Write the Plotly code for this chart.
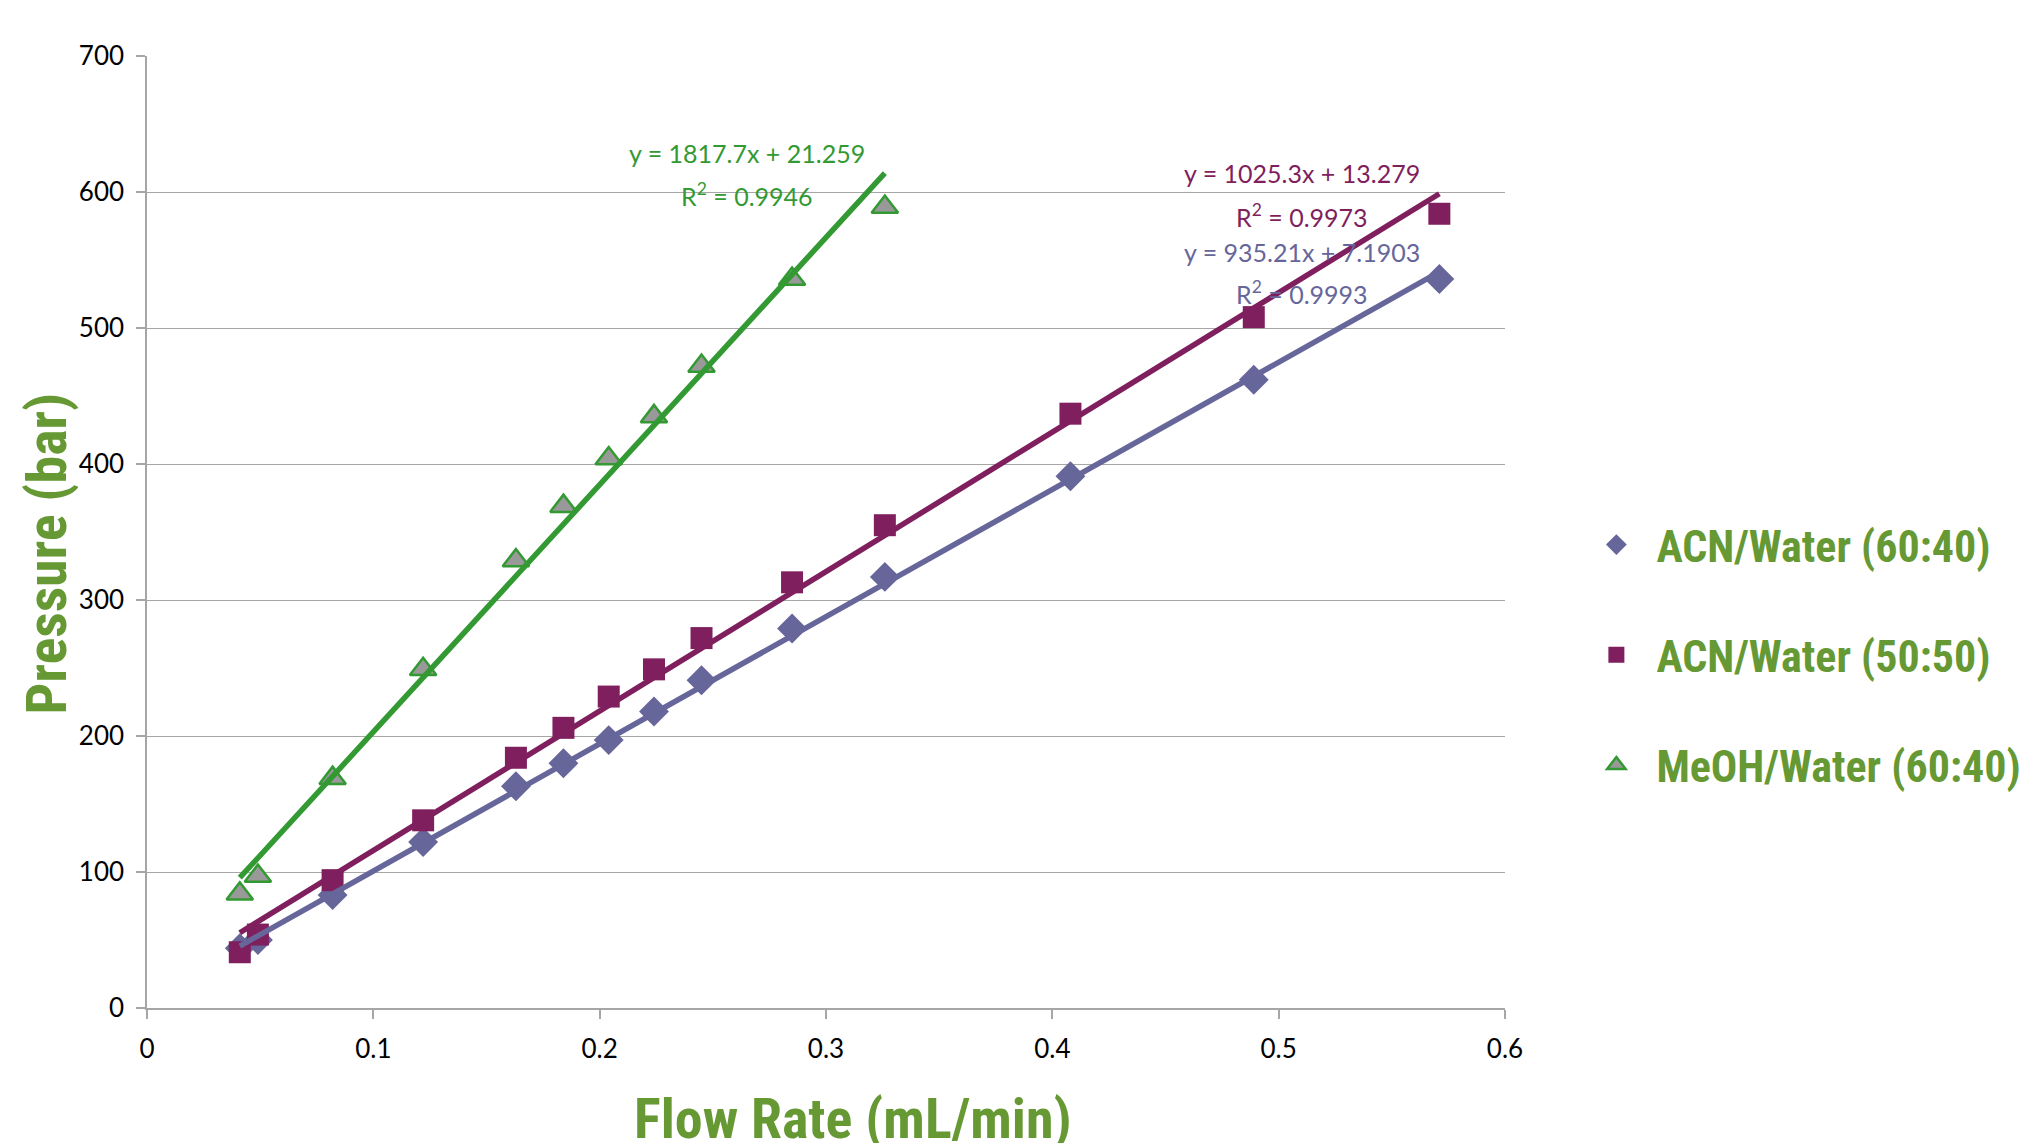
import plotly.graph_objects as go
import numpy as np

# ---- data ----
series_names = ["ACN/Water (60:40)", "ACN/Water (50:50)", "MeOH/Water (60:40)"]

acn6040_x = [0.041, 0.049, 0.082, 0.122, 0.163, 0.184, 0.204, 0.224, 0.245, 0.285, 0.326, 0.408, 0.489, 0.571]
acn6040_y = [44, 50, 83, 122, 163, 180, 197, 218, 241, 279, 317, 391, 462, 536]

acn5050_x = [0.041, 0.049, 0.082, 0.122, 0.163, 0.184, 0.204, 0.224, 0.245, 0.285, 0.326, 0.408, 0.489, 0.571]
acn5050_y = [41, 54, 94, 138, 184, 206, 229, 249, 272, 313, 355, 437, 508, 584]

meoh6040_x = [0.041, 0.049, 0.082, 0.122, 0.163, 0.184, 0.204, 0.224, 0.245, 0.285, 0.326]
meoh6040_y = [84, 97, 169, 249, 329, 369, 404, 435, 472, 536, 589]

# linear trendline coefficients (as printed on the chart)
trend_slope = [935.21, 1025.3, 1817.7]
trend_intercept = [7.1903, 13.279, 21.259]
trend_r2 = ["0.9993", "0.9973", "0.9946"]

x_ticks = [0, 0.1, 0.2, 0.3, 0.4, 0.5, 0.6]
x_tick_labels = ["0", "0.1", "0.2", "0.3", "0.4", "0.5", "0.6"]
y_ticks = [0, 100, 200, 300, 400, 500, 600, 700]

# ---- styles ----
c_blue = "#66669A"
c_mag = "#7F1F5E"
c_green = "#339933"
c_title = "#669933"
grid_c = "#A6A6A6"
title_font = "Liberation Sans Narrow, Arial Narrow, Roboto Condensed, Noto Sans Condensed, DejaVu Sans Condensed, sans-serif"
body_font = "Lato, Carlito, Calibri, sans-serif"

xs = [acn6040_x, acn5050_x, meoh6040_x]
ys = [acn6040_y, acn5050_y, meoh6040_y]
line_colors = [c_blue, c_mag, c_green]
markers = [
    dict(symbol="diamond", size=23, color=c_blue, line=dict(width=0)),
    dict(symbol="square", size=22, color=c_mag, line=dict(width=0)),
    dict(symbol="triangle-up", size=23, color="#999999", line=dict(width=2.5, color=c_green)),
]

fig = go.Figure()
for i in range(3):
    fig.add_trace(go.Scatter(
        x=xs[i], y=ys[i], mode="markers", name=series_names[i],
        marker=markers[i], legendgroup=f"g{i}", showlegend=True,
    ))

for i in range(3):
    x0, x1 = min(xs[i]), max(xs[i])
    tx = [x0, x1]
    ty = [trend_slope[i] * v + trend_intercept[i] for v in tx]
    fig.add_trace(go.Scatter(
        x=tx, y=ty, mode="lines", line=dict(color=line_colors[i], width=5.5),
        showlegend=False, hoverinfo="skip",
    ))

# trendline labels (data coordinates)
label_pos = [  # (x, y line1, y line2)
    (0.5104, 556, 526),
    (0.5104, 613.7, 583),
    (0.2652, 629, 598.5),
]
annotations = []
for i in range(3):
    lx, ly1, ly2 = label_pos[i]
    annotations.append(dict(
        x=lx, y=ly1, xref="x", yref="y", showarrow=False,
        text=f"y = {trend_slope[i]}x + {trend_intercept[i]}",
        font=dict(family=body_font, size=25, color=line_colors[i]),
        xanchor="center", yanchor="middle",
    ))
    annotations.append(dict(
        x=lx, y=ly2, xref="x", yref="y", showarrow=False,
        text=f"R<sup>2</sup> = {trend_r2[i]}",
        font=dict(family=body_font, size=25, color=line_colors[i]),
        xanchor="center", yanchor="middle",
    ))

# axis titles
annotations.append(dict(
    x=0.5197, y=-0.1166, xref="paper", yref="paper", showarrow=False,
    text="Flow Rate (mL/min)",
    font=dict(family=title_font, size=56, color=c_title, weight="bold"),
    xanchor="center", yanchor="middle",
))
annotations.append(dict(
    x=-0.074, y=0.477, xref="paper", yref="paper", showarrow=False,
    text="Pressure (bar)", textangle=-90,
    font=dict(family=title_font, size=56, color=c_title, weight="bold"),
    xanchor="center", yanchor="middle",
))

fig.update_layout(
    width=2021, height=1143,
    margin=dict(l=147, r=516, t=56, b=135, autoexpand=False),
    plot_bgcolor="white", paper_bgcolor="white",
    annotations=annotations,
    showlegend=True,
    legend=dict(
        xref="container", yref="container",
        x=0.780, y=0.427, xanchor="left", yanchor="middle",
        font=dict(family=title_font, size=44, color=c_title, weight="bold"),
        tracegroupgap=50, itemwidth=70,
        bgcolor="rgba(0,0,0,0)",
    ),
    xaxis=dict(
        range=[0, 0.6], tickvals=x_ticks, ticktext=x_tick_labels,
        showgrid=False, zeroline=False, automargin=False,
        showline=True, linecolor=grid_c, linewidth=1.5,
        ticks="outside", ticklen=9, tickcolor=grid_c, tickwidth=1.5,
        tickfont=dict(family=body_font, size=26, color="#000000"),
        ticklabelstandoff=8,
    ),
    yaxis=dict(
        range=[0, 700], tickvals=y_ticks, automargin=False,
        showgrid=True, gridcolor=grid_c, gridwidth=1.2, zeroline=False,
        showline=True, linecolor=grid_c, linewidth=1.5,
        ticks="outside", ticklen=9, tickcolor=grid_c, tickwidth=1.5,
        tickfont=dict(family=body_font, size=26, color="#000000"),
        ticklabelstandoff=7,
    ),
)

fig.write_html("out.html", config={"displayModeBar": False},
               post_script="document.body.style.margin='0px';")
